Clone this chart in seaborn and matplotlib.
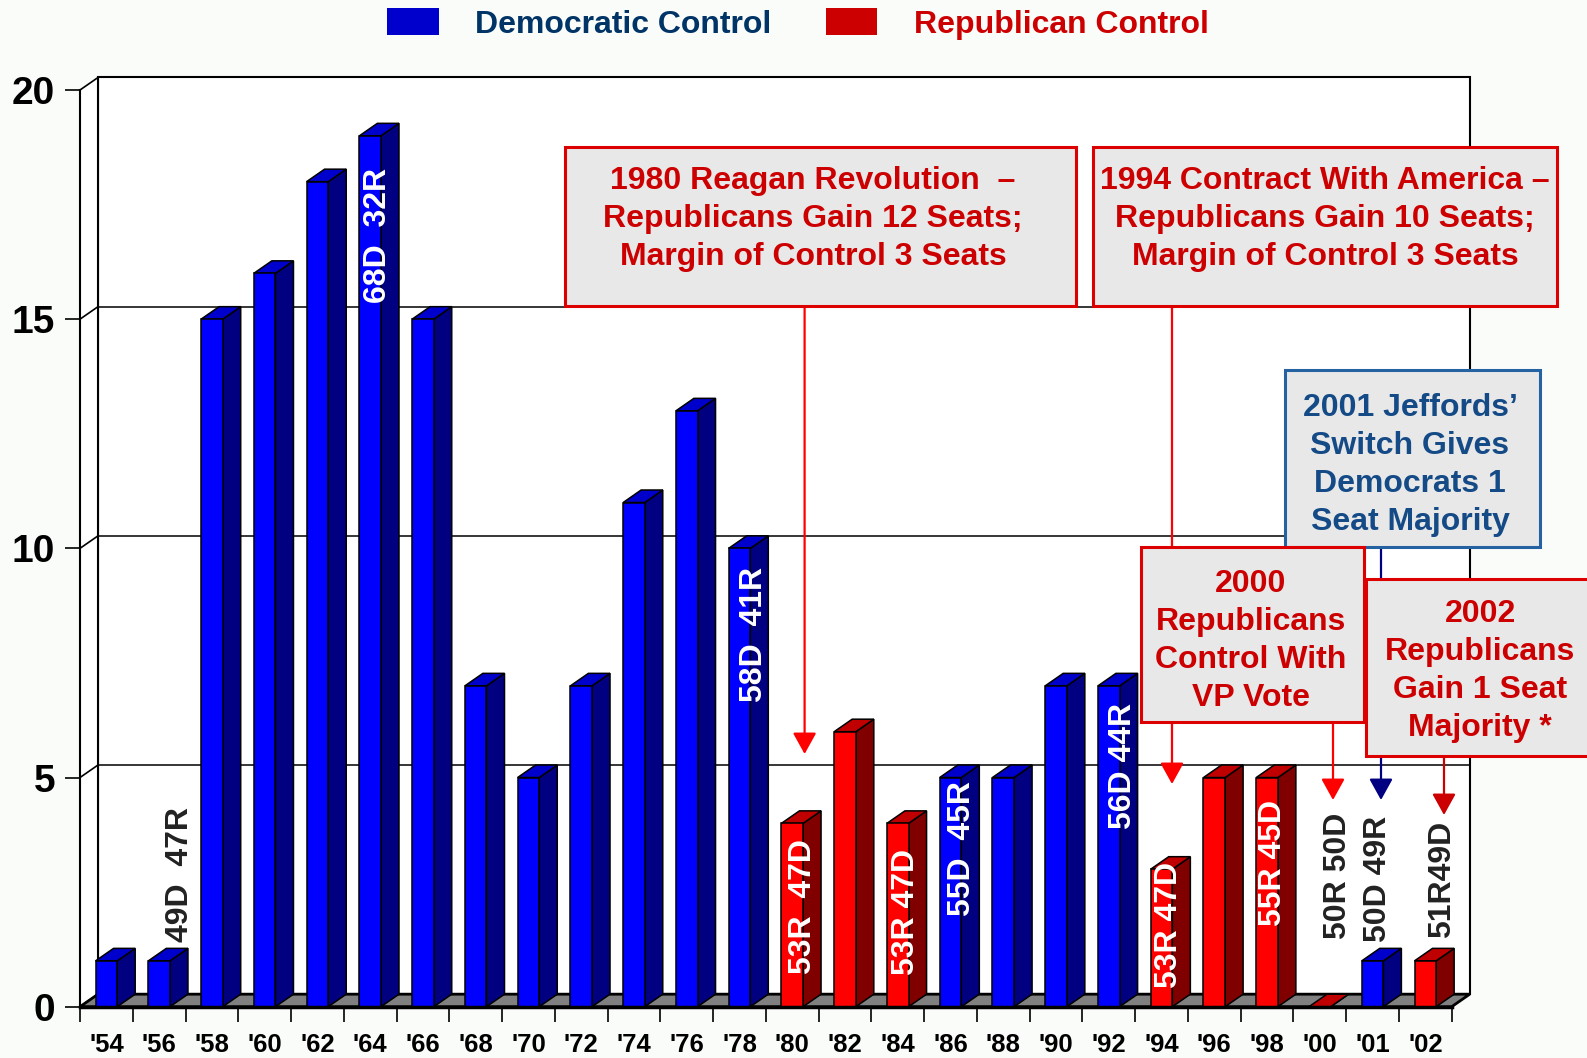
import numpy as np
import pandas as pd
import matplotlib
matplotlib.use('Agg')
import matplotlib.pyplot as plt
import seaborn as sns
from matplotlib.patches import Polygon, Rectangle, FancyArrowPatch, Patch

# ---------------- data ----------------
years = ["'54", "'56", "'58", "'60", "'62", "'64", "'66", "'68", "'70", "'72", "'74",
         "'76", "'78", "'80", "'82", "'84", "'86", "'88", "'90", "'92", "'94", "'96",
         "'98", "'00", "'01", "'02"]
margins = [1, 1, 15, 16, 18, 19, 15, 7, 5, 7, 11, 13, 10, 4, 6, 4, 5, 5, 7, 7, 3, 5, 5, 0, 1, 1]
control = ['D'] * 13 + ['R', 'R', 'R', 'D', 'D', 'D', 'D', 'R', 'R', 'R', 'R', 'D', 'R']

seat_label_years = ["'56", "'64", "'78", "'80", "'84", "'86", "'92", "'94", "'98", "'00", "'01", "'02"]
seat_label_texts = ["49D  47R", "68D  32R", "58D  41R", "53R  47D", "53R 47D", "55D  45R",
                    "56D 44R", "53R 47D", "55R 45D", "50R 50D", "50D 49R", "51R49D"]
seat_label_inside = [False, True, True, True, True, True, True, True, True, False, False, False]

legend_labels = ['Democratic Control', 'Republican Control']

notes = ["1980 Reagan Revolution  \u2013\nRepublicans Gain 12 Seats;\nMargin of Control 3 Seats",
         "1994 Contract With America \u2013\nRepublicans Gain 10 Seats;\nMargin of Control 3 Seats",
         "2001 Jeffords\u2019\nSwitch Gives\nDemocrats 1\nSeat Majority",
         "2000\nRepublicans\nControl With\nVP Vote",
         "2002\nRepublicans\nGain 1 Seat\nMajority *"]

# ---------------- layout / style ----------------
W, H = 1587, 1058
X0, X1 = 80.0, 1451.7
Y0, Y20 = 1006.7, 90.0
DXPX, DYPX = 18.0, 12.5

front_col = {'D': '#0000FF', 'R': '#FF0000'}
top_col = {'D': '#0000CC', 'R': '#C00000'}
side_col = {'D': '#000080', 'R': '#800000'}

# label centers (image pixels, y from top)
seat_label_pos = [(180, 875), (378, 235), (754, 634), (803, 906), (906, 912), (962, 848),
                  (1123, 766), (1169, 925), (1273, 863), (1338, 876), (1378, 879), (1442, 879)]

# note boxes: (x0, y0, x1, y1), text center, text color, edge color
note_boxes = [(565, 147, 1076, 306), (1093, 147, 1557, 306), (1285, 370, 1540, 547),
              (1141, 547, 1364, 722), (1366, 579, 1600, 756)]
note_centers = [(813, 219), (1325, 219), (1410, 465), (1251, 641), (1480, 671)]
RED_T, BLUE_T = '#CC0000', '#144A86'
note_text_cols = [RED_T, RED_T, BLUE_T, RED_T, RED_T]
note_edge_cols = ['#DD0000', '#DD0000', '#2462A2', '#DD0000', '#DD0000']
# arrows: x, y_start, y_tip, color
arrows = [(804.6, 306, 754, '#FF0000'), (1172, 306, 784, '#FF0000'),
          (1381, 547, 800, '#000080'), (1333, 722, 800, '#FF0000'),
          (1444, 756, 815, '#CC0000')]

sns.set_style('white')
plt.rcParams['font.family'] = ['Liberation Sans', 'DejaVu Sans']
plt.rcParams['font.weight'] = 'bold'

fig = plt.figure(figsize=(W / 100, H / 100), dpi=100, facecolor='#fafcfa')
ax = fig.add_axes([X0 / W, (H - Y0) / H, (X1 - X0) / W, (Y0 - Y20) / H])
ax.set_facecolor('none')

df = pd.DataFrame({'year': years, 'margin': margins, 'control': control})
sns.barplot(data=df, x='year', y='margin', hue='control', palette=front_col,
            dodge=False, width=0.41, edgecolor='black', linewidth=1.1, saturation=1,
            legend=False, ax=ax, zorder=3)
ax.set_xlim(-0.5, 25.5)
ax.set_ylim(0, 20)
ax.set_xlabel('')
ax.set_ylabel('')

DX = DXPX / ((X1 - X0) / 26)
DY = DYPX / ((Y0 - Y20) / 20)

# back wall, left wall, floor
ax.add_patch(Rectangle((-0.5 + DX, DY), 26, 20, fc='white', ec='black', lw=1.5,
                       zorder=0.5, clip_on=False))
ax.add_patch(Polygon([(-0.5, 0), (-0.5 + DX, DY), (-0.5 + DX, 20 + DY), (-0.5, 20)],
                     closed=True, fc='white', ec='none', zorder=0.55, clip_on=False))
ax.plot([-0.5 + DX, -0.5 + DX], [DY, 20 + DY], color='black', lw=1.5, zorder=0.6, clip_on=False)
for v in [5, 10, 15]:
    ax.plot([-0.5 + DX, 25.5 + DX], [v + DY, v + DY], color='black', lw=1.1, zorder=0.6,
            clip_on=False)
for v in [0, 5, 10, 15, 20]:
    ax.plot([-0.5, -0.5 + DX], [v, v + DY], color='black', lw=1.2, zorder=0.6, clip_on=False)
ax.add_patch(Polygon([(-0.5, 0), (25.5, 0), (25.5 + DX, DY), (-0.5 + DX, DY)], closed=True,
                     fc='#808080', ec='black', lw=2.0, zorder=0.7, clip_on=False))

# 3D faces for each bar, from the seaborn patches
for p in list(ax.patches):
    if not isinstance(p, Rectangle) or p.get_zorder() != 3:
        continue
    x, w, h = p.get_x(), p.get_width(), p.get_height()
    i = int(round(x + w / 2))
    c = control[i]
    side = [(x + w, 0), (x + w + DX, DY), (x + w + DX, h + DY), (x + w, h)]
    top = [(x, h), (x + w, h), (x + w + DX, h + DY), (x + DX, h + DY)]
    ax.add_patch(Polygon(side, closed=True, fc=side_col[c], ec='black', lw=1.1, zorder=2.9,
                         clip_on=False))
    ax.add_patch(Polygon(top, closed=True, fc=top_col[c], ec='black', lw=1.1, zorder=2.95,
                         clip_on=False))

# spines and ticks
for s in ['top', 'right']:
    ax.spines[s].set_visible(False)
ax.spines['left'].set_linewidth(1.5)
ax.spines['bottom'].set_linewidth(2.5)
ax.spines['left'].set_color('black')
ax.spines['bottom'].set_color('black')
ax.spines['bottom'].set_zorder(3.5)

ax.set_yticks([0, 5, 10, 15, 20])
ax.tick_params(axis='y', length=10.8, width=1.2, pad=7, labelsize=28, colors='black',
               left=True)
ax.set_xticks(np.arange(len(years)))
ax.set_xticklabels(years)
ax.set_xticks(np.arange(-0.5, len(years)), minor=True)
ax.tick_params(axis='x', which='major', length=0, pad=19, labelsize=18.5, colors='black')
ax.tick_params(axis='x', which='minor', length=10.8, width=1.2, colors='black', bottom=True)
for t in ax.get_xticklabels() + ax.get_yticklabels():
    t.set_fontweight('bold')

# seat labels
for txt, (px, py), inside in zip(seat_label_texts, seat_label_pos, seat_label_inside):
    fig.text(px / W, (H - py) / H, txt, rotation=90, ha='center', va='center',
             fontsize=23, fontweight='bold', color='white' if inside else '#222222',
             zorder=6)

# legend
handles = [Patch(fc='#0000CC', ec='none', label=legend_labels[0]),
           Patch(fc='#CC0000', ec='none', label=legend_labels[1])]
fig.legend(handles=handles, loc='center', bbox_to_anchor=(798 / W, 1 - 24 / H), ncol=2,
           frameon=False, fontsize=23, handlelength=1.6, handleheight=0.9,
           handletextpad=1.15, columnspacing=1.7, labelcolor=['#003366', '#CC0000'],
           prop={'weight': 'bold', 'size': 23})

# annotation arrows (under boxes)
for (x, ys, yt, col) in arrows:
    fig.add_artist(FancyArrowPatch((x / W, (H - ys) / H), (x / W, (H - yt) / H),
                                   transform=fig.transFigure,
                                   arrowstyle='-|>,head_length=0.65,head_width=0.36',
                                   mutation_scale=20, color=col, lw=1.6,
                                   shrinkA=0, shrinkB=0, zorder=9))
# annotation boxes
for txt, (bx0, by0, bx1, by1), (cx, cy), tc, ec in zip(notes, note_boxes, note_centers,
                                                      note_text_cols, note_edge_cols):
    fig.add_artist(Rectangle((bx0 / W, (H - by1) / H), (bx1 - bx0) / W, (by1 - by0) / H,
                             transform=fig.transFigure, fc='#E8E8E8', ec=ec, lw=2.2,
                             zorder=10))
    fig.text(cx / W, (H - cy) / H, txt, ha='center', va='center', fontsize=23,
             fontweight='bold', color=tc, linespacing=1.34, zorder=11)

fig.savefig('out.png', dpi=100, facecolor=fig.get_facecolor())
